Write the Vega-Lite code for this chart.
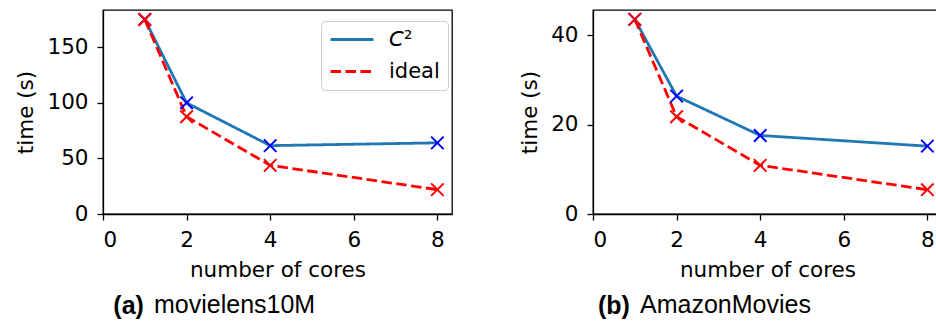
{
  "$schema": "https://vega.github.io/schema/vega-lite/v6.json",
  "background": "white",
  "padding": {"left": 15, "top": 8, "right": 0, "bottom": 0},
  "spacing": 65,
  "config": {
    "view": {"stroke": "black", "strokeWidth": 1.3},
    "axis": {
      "grid": false,
      "domainColor": "black", "domainWidth": 1.3,
      "tickColor": "black", "tickWidth": 1.3, "tickSize": 6,
      "labelFont": "DejaVu Sans", "labelFontSize": 21.5, "labelColor": "black", "labelPadding": 9,
      "titleFont": "DejaVu Sans", "titleFontSize": 21.5, "titleFontWeight": "normal", "titleColor": "black", "titlePadding": 9
    },
    "legend": {
      "title": null, "orient": "none", "legendX": 218, "legendY": 11, "symbolType": "stroke", "symbolSize": 1849, "clipHeight": 21,
      "symbolStrokeWidth": 2.8, "labelFont": "DejaVu Sans", "labelFontSize": 21, "labelColor": "black", "labelOffset": 14,
      "rowPadding": 10, "padding": 8, "strokeColor": "#cccccc", "fillColor": "rgba(255,255,255,0.8)", "cornerRadius": 4
    }
  },
  "datasets": {
    "movielens": [
      {"cores": 1, "time": 175, "series": "C2"},
      {"cores": 2, "time": 100, "series": "C2"},
      {"cores": 4, "time": 61.5, "series": "C2"},
      {"cores": 8, "time": 64, "series": "C2"},
      {"cores": 1, "time": 175, "series": "ideal"},
      {"cores": 2, "time": 87.5, "series": "ideal"},
      {"cores": 4, "time": 43.75, "series": "ideal"},
      {"cores": 8, "time": 21.9, "series": "ideal"}
    ],
    "amazon": [
      {"cores": 1, "time": 43.6, "series": "C2"},
      {"cores": 2, "time": 26.4, "series": "C2"},
      {"cores": 4, "time": 17.6, "series": "C2"},
      {"cores": 8, "time": 15.2, "series": "C2"},
      {"cores": 1, "time": 43.6, "series": "ideal"},
      {"cores": 2, "time": 21.8, "series": "ideal"},
      {"cores": 4, "time": 10.9, "series": "ideal"},
      {"cores": 8, "time": 5.45, "series": "ideal"}
    ]
  },
  "hconcat": [
    {
      "title": {"text": "(a)", "orient": "bottom", "anchor": "start", "frame": "bounds", "dx": 98, "offset": -25,
        "font": "Liberation Sans", "fontSize": 25, "fontWeight": "bold", "color": "black"},
      "vconcat": [
        {
          "width": 349, "height": 204,
          "data": {"name": "movielens"},
          "title": {"text": "movielens10M", "orient": "bottom", "anchor": "start", "frame": "group", "dx": 51, "offset": 12,
            "font": "Liberation Sans", "fontSize": 25, "fontWeight": "normal", "color": "black"},
          "encoding": {
            "x": {"field": "cores", "type": "quantitative", "scale": {"domain": [0, 8.35], "nice": false, "zero": false}, "axis": {"values": [0, 2, 4, 6, 8], "title": "number of cores"}},
            "y": {"field": "time", "type": "quantitative", "scale": {"domain": [0, 183.5], "nice": false}, "axis": {"values": [0, 50, 100, 150], "title": "time (s)"}}
          },
          "layer": [
            {
              "mark": {"type": "line", "strokeWidth": 2.8},
              "encoding": {
                "color": {"field": "series", "type": "nominal", "scale": {"domain": ["C2", "ideal"], "range": ["#1f77b4", "#ff0000"]},
                  "legend": {"labelExpr": "datum.label == 'C2' ? '𝘊²' : datum.label"}},
                "strokeDash": {"field": "series", "type": "nominal", "scale": {"domain": ["C2", "ideal"], "range": [[1, 0], [10.5, 4.5]]},
                  "legend": {"labelExpr": "datum.label == 'C2' ? '𝘊²' : datum.label"}}
              }
            },
            {
              "mark": {"type": "point", "shape": "M-1,-1L1,1M-1,1L1,-1", "size": 156, "strokeWidth": 2, "filled": false, "opacity": 1},
              "encoding": {
                "stroke": {"field": "series", "type": "nominal", "scale": {"domain": ["C2", "ideal"], "range": ["#0000ff", "#ff0000"]}, "legend": null}
              }
            }
          ]
        }
      ]
    },
    {
      "title": {"text": "(b)", "orient": "bottom", "anchor": "start", "frame": "bounds", "dx": 79, "offset": -25,
        "font": "Liberation Sans", "fontSize": 25, "fontWeight": "bold", "color": "black"},
      "vconcat": [
        {
          "width": 349, "height": 204,
          "data": {"name": "amazon"},
          "title": {"text": "AmazonMovies", "orient": "bottom", "anchor": "start", "frame": "group", "dx": 47, "offset": 12,
            "font": "Liberation Sans", "fontSize": 25, "fontWeight": "normal", "color": "black"},
          "encoding": {
            "x": {"field": "cores", "type": "quantitative", "scale": {"domain": [0, 8.35], "nice": false, "zero": false}, "axis": {"values": [0, 2, 4, 6, 8], "title": "number of cores"}},
            "y": {"field": "time", "type": "quantitative", "scale": {"domain": [0, 45.7], "nice": false}, "axis": {"values": [0, 20, 40], "title": "time (s)"}}
          },
          "layer": [
            {
              "mark": {"type": "line", "strokeWidth": 2.8},
              "encoding": {
                "color": {"field": "series", "type": "nominal", "scale": {"domain": ["C2", "ideal"], "range": ["#1f77b4", "#ff0000"]},
                  "legend": {"labelExpr": "datum.label == 'C2' ? '𝘊²' : datum.label"}},
                "strokeDash": {"field": "series", "type": "nominal", "scale": {"domain": ["C2", "ideal"], "range": [[1, 0], [10.5, 4.5]]},
                  "legend": {"labelExpr": "datum.label == 'C2' ? '𝘊²' : datum.label"}}
              }
            },
            {
              "mark": {"type": "point", "shape": "M-1,-1L1,1M-1,1L1,-1", "size": 156, "strokeWidth": 2, "filled": false, "opacity": 1},
              "encoding": {
                "stroke": {"field": "series", "type": "nominal", "scale": {"domain": ["C2", "ideal"], "range": ["#0000ff", "#ff0000"]}, "legend": null}
              }
            }
          ]
        }
      ]
    }
  ],
  "resolve": {"scale": {"x": "independent", "y": "independent"}}
}
